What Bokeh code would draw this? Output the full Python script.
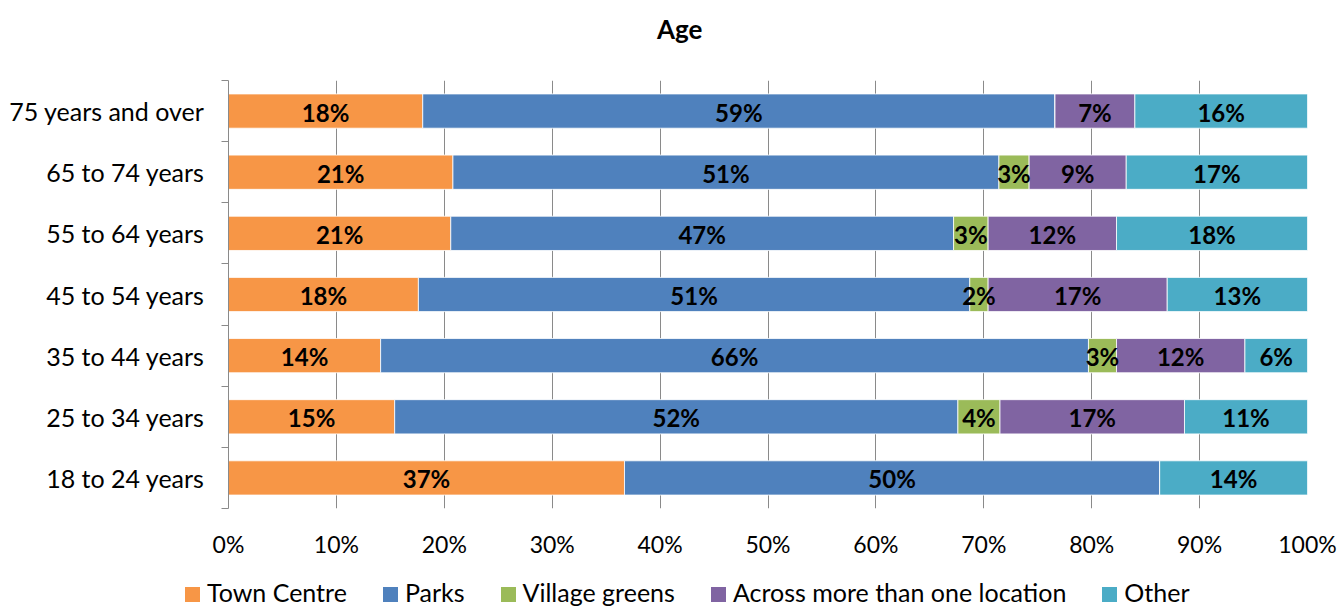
from bokeh.plotting import figure
from bokeh.models import (ColumnDataSource, FixedTicker, LabelSet, Range1d,
                          PrintfTickFormatter, Div)
from bokeh.layouts import column
from bokeh.core.properties import value
from bokeh.embed import file_html
from bokeh.resources import INLINE

# ---- data ----
title_text = "Age"
categories = ["18 to 24 years", "25 to 34 years", "35 to 44 years", "45 to 54 years",
              "55 to 64 years", "65 to 74 years", "75 years and over"]
series = ["Town Centre", "Parks", "Village greens", "Across more than one location", "Other"]
town_centre = [36.7, 15.4, 14.1, 17.6, 20.6, 20.8, 18.0]
parks = [49.6, 52.2, 65.6, 51.1, 46.6, 50.6, 58.6]
village_greens = [0.0, 3.9, 2.6, 1.7, 3.2, 2.8, 0.0]
across = [0.0, 17.1, 11.9, 16.6, 11.9, 9.0, 7.4]
other = [13.7, 11.4, 5.8, 13.0, 17.7, 16.8, 16.0]
x_ticks = [0, 10, 20, 30, 40, 50, 60, 70, 80, 90, 100]
colors = ["#F79646", "#4F81BD", "#9BBB59", "#8064A2", "#4BACC6"]

FONT = "Lato"

n = len(categories)
ypos = [i + 0.5 for i in range(n)]
keys = ["s0", "s1", "s2", "s3", "s4"]
values = [town_centre, parks, village_greens, across, other]
data = {"y": ypos}
for k, v in zip(keys, values):
    data[k] = v
src = ColumnDataSource(data)

# label positions (segment midpoints)
lx, ly, lt = [], [], []
for i in range(n):
    left = 0.0
    for v in values:
        val = v[i]
        if val > 0:
            lx.append(left + val / 2.0)
            ly.append(ypos[i])
            lt.append(f"{int(val + 0.5)}%")
        left += val
lsrc = ColumnDataSource(dict(x=lx, y=ly, t=lt))

# ---- title strip ----
title_div = Div(
    text=f'<div style="margin:0;padding:0;margin-left:657px;margin-top:14px;'
         f'font-family:{FONT};font-size:26px;font-weight:bold;line-height:30px;color:#000;'
         f'white-space:nowrap">{title_text}</div>',
    width=1338, height=48, margin=0)

# ---- main chart ----
p = figure(width=1338, height=524, x_range=Range1d(0, 100), y_range=Range1d(0, n),
           output_backend="svg", toolbar_location=None,
           min_border_left=228, min_border_right=31, min_border_top=32, min_border_bottom=64)
p.outline_line_color = None
p.background_fill_color = "white"
p.border_fill_color = "white"

rs = p.hbar_stack(keys, y="y", height=0.56, color=colors, source=src,
                  line_color="white", line_width=0.8)

labels = LabelSet(x="x", y="y", text="t", source=lsrc, text_align="center",
                  text_baseline="middle", text_font=value(FONT), text_font_style="bold",
                  text_font_size="24px", text_color="black", y_offset=-1)
p.add_layout(labels)

# x axis
p.xaxis.ticker = FixedTicker(ticks=x_ticks)
p.xaxis.formatter = PrintfTickFormatter(format="%d%%")
p.xaxis.axis_line_color = None
p.xaxis.major_tick_line_color = None
p.xaxis.minor_tick_line_color = None
p.xaxis.major_label_standoff = 15
p.xaxis.major_label_text_font = FONT
p.xaxis.major_label_text_font_size = "23px"
p.xaxis.major_label_text_color = "black"
p.xgrid.ticker = FixedTicker(ticks=x_ticks)
p.xgrid.grid_line_color = "#8a8a8a"
p.xgrid.grid_line_width = 1
p.ygrid.grid_line_color = None

# y axis
p.yaxis.ticker = FixedTicker(ticks=ypos, minor_ticks=list(range(n + 1)))
p.yaxis.major_label_overrides = {y: c for y, c in zip(ypos, categories)}
p.yaxis.axis_line_color = "#8a8a8a"
p.yaxis.major_tick_line_color = None
p.yaxis.minor_tick_line_color = "#8a8a8a"
p.yaxis.minor_tick_out = 7
p.yaxis.minor_tick_in = 0
p.yaxis.major_tick_out = 0
p.yaxis.major_tick_in = 0
p.yaxis.major_label_standoff = 17
p.yaxis.major_label_text_font = FONT
p.yaxis.major_label_text_font_size = "25px"
p.yaxis.major_label_text_color = "black"

# ---- legend strip ----
items_html = "".join(
    f'<span style="display:inline-block;width:15px;height:15px;background:{c};'
    f'margin-right:7px;vertical-align:baseline"></span>'
    f'<span style="margin-right:{0 if i == len(series) - 1 else 36}px">{s}</span>'
    for i, (s, c) in enumerate(zip(series, colors)))
legend_div = Div(
    text=f'<div style="margin:0;padding:0;margin-left:185px;margin-top:5px;'
         f'font-family:{FONT};font-size:25px;line-height:30px;color:#000;'
         f'white-space:nowrap">{items_html}</div>',
    width=1338, height=38, margin=0)

layout = column(title_div, p, legend_div, spacing=0)
open("out.html", "w").write(file_html(layout, INLINE))
